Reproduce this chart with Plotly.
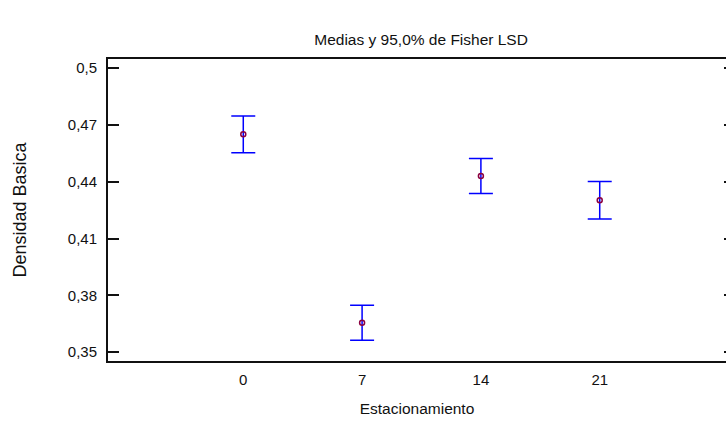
import plotly.graph_objects as go

# Data
days = [0, 7, 14, 21]
day_labels = ["0", "7", "14", "21"]
means = [0.4650, 0.3655, 0.4430, 0.4302]
half_lsd = [0.0097, 0.0092, 0.0093, 0.0099]
y_tickvals = [0.35, 0.38, 0.41, 0.44, 0.47, 0.50]
y_ticktext = ["0,35", "0,38", "0,41", "0,44", "0,47", "0,5"]

FONT = "Liberation Sans, Arial, sans-serif"
FS = 15

fig = go.Figure()
fig.add_trace(go.Scatter(
    x=days, y=means, mode="markers",
    marker=dict(symbol="circle-open", size=5, color="#8B0040", line=dict(width=1.5, color="#8B0040")),
    error_y=dict(type="data", array=half_lsd, symmetric=True, color="#0000FF", thickness=1.5, width=12),
    showlegend=False,
))
# invisible right axis for small inward ticks at right edge
fig.add_trace(go.Scatter(x=[days[0]], y=[means[0]], yaxis="y2", mode="markers",
                         marker=dict(opacity=0), showlegend=False, hoverinfo="skip"))

fig.update_layout(
    width=726, height=422,
    margin=dict(l=108, r=0, t=59, b=61),
    paper_bgcolor="white", plot_bgcolor="white",
    font=dict(family=FONT, size=FS, color="#111111"),
    title=dict(text="Medias y 95,0% de Fisher LSD", x=0.58, xanchor="center", y=0.907, yanchor="middle",
               font=dict(family=FONT, size=15.5, color="#111111")),
    xaxis=dict(range=[-7.97, 28.44], tickvals=days, ticktext=day_labels, ticks="",
               showline=True, linecolor="#111111", linewidth=2, mirror=True,
               showgrid=False, zeroline=False, ticklabelstandoff=4,
               title=dict(text="Estacionamiento", standoff=16, font=dict(size=15.5))),
    yaxis=dict(range=[0.3453, 0.5048], tickvals=y_tickvals, ticktext=y_ticktext,
               ticks="inside", ticklen=11, tickwidth=2, tickcolor="#111111",
               showline=True, linecolor="#111111", linewidth=2, mirror=False,
               showgrid=False, zeroline=False, ticklabelstandoff=6,
               title=dict(text="Densidad Basica", standoff=36, font=dict(size=18))),
    yaxis2=dict(range=[0.3453, 0.5048], tickvals=y_tickvals, overlaying="y", side="right",
                ticks="inside", ticklen=2, tickwidth=2, tickcolor="#111111",
                showticklabels=False, showline=False, showgrid=False, zeroline=False),
)

fig.write_html("out.html")
